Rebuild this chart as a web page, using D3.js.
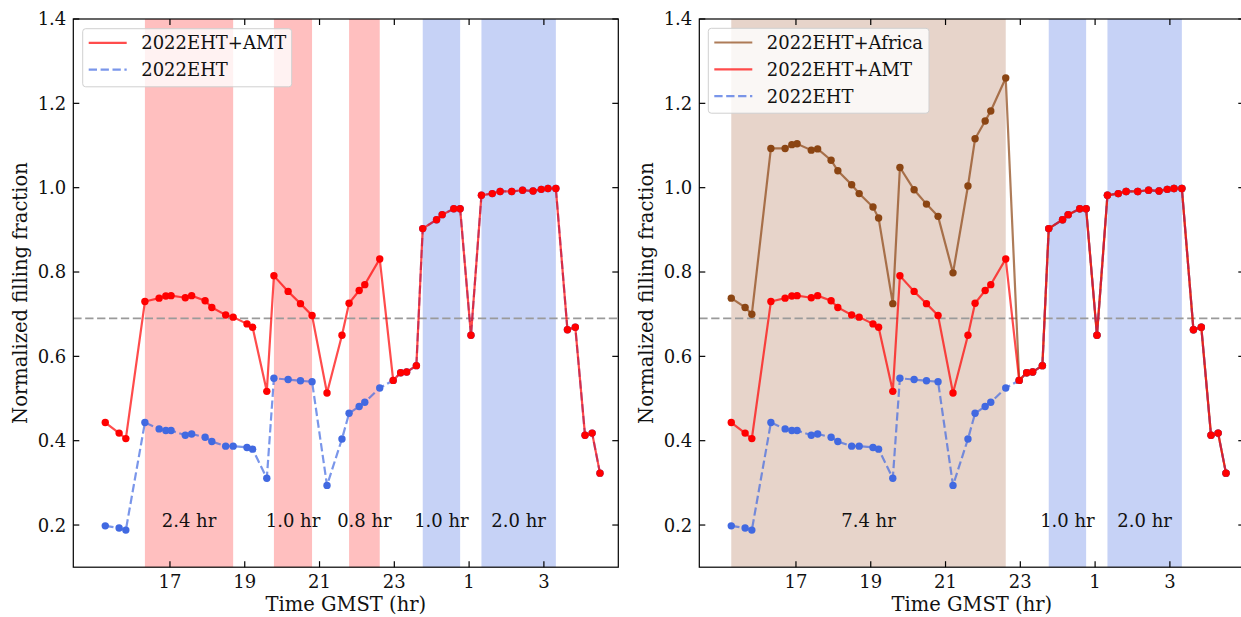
<!DOCTYPE html>
<html>
<head>
<meta charset="utf-8">
<script src="https://cdn.jsdelivr.net/npm/d3@7"></script>
<style>
  html, body { margin: 0; padding: 0; background: #fff; }
  svg { display: block; font-family: "DejaVu Serif", serif; }
</style>
</head>
<body>
<svg id="chart" width="1241" height="617"></svg>
<script>
// Observation times (GMST hours, continued past 24 so the track stays monotonic)
const gmst = [15.27, 15.64, 15.82, 16.33, 16.71, 16.89, 17.03, 17.41, 17.58, 17.94,
              18.12, 18.49, 18.69, 19.06, 19.21, 19.59, 19.78, 20.16, 20.49, 20.80,
              21.20, 21.60, 21.79, 22.06, 22.21, 22.61, 22.97, 23.17, 23.33, 23.59,
              23.76, 24.13, 24.28, 24.59, 24.76, 25.05, 25.33, 25.62, 25.83, 26.14,
              26.43, 26.71, 26.93, 27.11, 27.32, 27.63, 27.84, 28.10, 28.29, 28.50];

// Normalized filling fraction per array
const fillEHT = [0.198, 0.193, 0.188, 0.443, 0.428, 0.424, 0.424, 0.413, 0.416, 0.408,
                 0.398, 0.387, 0.387, 0.384, 0.380, 0.311, 0.548, 0.545, 0.542, 0.540,
                 0.294, 0.404, 0.465, 0.481, 0.491, 0.525, 0.543, 0.561, 0.563, 0.578,
                 0.903, 0.924, 0.936, 0.950, 0.950, 0.650, 0.982, 0.986, 0.991, 0.991,
                 0.994, 0.992, 0.996, 0.998, 0.998, 0.663, 0.669, 0.413, 0.418, 0.323];

const fillAMT = [0.443, 0.418, 0.405, 0.730, 0.738, 0.743, 0.744, 0.739, 0.744, 0.732,
                 0.716, 0.698, 0.693, 0.677, 0.669, 0.517, 0.791, 0.754, 0.725, 0.697,
                 0.513, 0.650, 0.726, 0.756, 0.770, 0.831, 0.543, 0.561, 0.563, 0.578,
                 0.903, 0.924, 0.936, 0.950, 0.950, 0.650, 0.982, 0.986, 0.991, 0.991,
                 0.994, 0.992, 0.996, 0.998, 0.998, 0.663, 0.669, 0.413, 0.418, 0.323];

const fillAfrica = [0.738, 0.716, 0.700, 1.093, 1.093, 1.102, 1.104, 1.089, 1.092, 1.065,
                    1.040, 1.007, 0.986, 0.954, 0.928, 0.725, 1.048, 0.995, 0.961, 0.932,
                    0.798, 1.004, 1.116, 1.158, 1.182, 1.260, 0.543, 0.561, 0.563, 0.578,
                    0.903, 0.924, 0.936, 0.950, 0.950, 0.650, 0.982, 0.986, 0.991, 0.991,
                    0.994, 0.992, 0.996, 0.998, 0.998, 0.663, 0.669, 0.413, 0.418, 0.323];

// Threshold level
const threshold = [0.69];

// Highlighted windows [start, end] and their labels
const amtWindows = [[16.33, 18.69], [19.78, 20.80], [21.79, 22.61]];
const amtWindowLabels = ["2.4 hr", "1.0 hr", "0.8 hr"];
const africaWindows = [[15.27, 22.61]];
const africaWindowLabels = ["7.4 hr"];
const commonWindows = [[23.76, 24.76], [25.33, 27.32]];
const commonWindowLabels = ["1.0 hr", "2.0 hr"];

// Axis ticks
const xTickValues = [17, 19, 21, 23, 25, 27];
const xTickLabels = ["17", "19", "21", "23", "1", "3"];
const yTickValues = [0.2, 0.4, 0.6, 0.8, 1.0, 1.2, 1.4];
const yTickLabels = ["0.2", "0.4", "0.6", "0.8", "1.0", "1.2", "1.4"];

const svg = d3.select("#chart");
const panelW = 545, panelH = 548.2, plotTop = 19;
const FONT = 18, TITLE_FONT = 19.5;

const styles = {
  eht:    { line: "#4169e1", dot: "#4169e1", dash: "8.3,3.6", name: "2022EHT" },
  amt:    { line: "#ff0000", dot: "#ff0000", dash: null,      name: "2022EHT+AMT" },
  africa: { line: "#8b4513", dot: "#8b4513", dash: null,      name: "2022EHT+Africa" }
};

function drawPanel(left, cfg) {
  const x = d3.scaleLinear().domain([14.415, 28.99]).range([0, panelW]);
  const y = d3.scaleLinear().domain([0.1, 1.4]).range([panelH, 0]);
  const g = svg.append("g").attr("transform", `translate(${left},${plotTop})`);

  // shaded windows
  cfg.bands.forEach(b => {
    g.selectAll(null).data(b.windows).enter().append("rect")
      .attr("x", d => x(d[0])).attr("y", 0)
      .attr("width", d => x(d[1]) - x(d[0])).attr("height", panelH)
      .attr("fill", b.color).attr("fill-opacity", b.opacity);
  });

  // threshold line
  g.selectAll(null).data(threshold).enter().append("line")
    .attr("x1", 0).attr("x2", panelW)
    .attr("y1", d => y(d)).attr("y2", d => y(d))
    .attr("stroke", "#9a9a9a").attr("stroke-width", 1.9)
    .attr("stroke-dasharray", "8.3,3.6");

  // series
  const line = d3.line().x(d => x(d[0])).y(d => y(d[1]));
  cfg.series.forEach(s => {
    const st = styles[s.key];
    const pts = gmst.map((t, i) => [t, s.values[i]]);
    g.append("path").datum(pts).attr("d", line)
      .attr("fill", "none").attr("stroke", st.line)
      .attr("stroke-opacity", 0.7).attr("stroke-width", 2.2)
      .attr("stroke-dasharray", st.dash);
    g.selectAll(null).data(pts).enter().append("circle")
      .attr("cx", d => x(d[0])).attr("cy", d => y(d[1])).attr("r", 3.7)
      .attr("fill", st.dot);
  });

  // window labels
  cfg.bands.forEach(b => {
    g.selectAll(null).data(b.windows).enter().append("text")
      .attr("x", d => (x(d[0]) + x(d[1])) / 2)
      .attr("y", y(0.2) + 2)
      .attr("text-anchor", "middle").attr("font-size", FONT).attr("fill", "#111")
      .text((d, i) => b.labels[i]);
  });

  // frame
  g.append("rect").attr("x", 0).attr("y", 0).attr("width", panelW).attr("height", panelH)
    .attr("fill", "none").attr("stroke", "#000").attr("stroke-width", 1.2);

  // inward ticks on all sides
  const tl = 6;
  xTickValues.forEach((v, i) => {
    g.append("line").attr("x1", x(v)).attr("x2", x(v)).attr("y1", panelH).attr("y2", panelH - tl)
      .attr("stroke", "#000").attr("stroke-width", 1.2);
    g.append("line").attr("x1", x(v)).attr("x2", x(v)).attr("y1", 0).attr("y2", tl)
      .attr("stroke", "#000").attr("stroke-width", 1.2);
    g.append("text").attr("x", x(v)).attr("y", panelH + 21)
      .attr("text-anchor", "middle").attr("font-size", FONT).attr("fill", "#111")
      .text(xTickLabels[i]);
  });
  yTickValues.forEach((v, i) => {
    g.append("line").attr("x1", 0).attr("x2", tl).attr("y1", y(v)).attr("y2", y(v))
      .attr("stroke", "#000").attr("stroke-width", 1.2);
    g.append("line").attr("x1", panelW).attr("x2", panelW - tl).attr("y1", y(v)).attr("y2", y(v))
      .attr("stroke", "#000").attr("stroke-width", 1.2);
    g.append("text").attr("x", -7).attr("y", y(v)).attr("dy", "0.36em")
      .attr("text-anchor", "end").attr("font-size", FONT).attr("fill", "#111")
      .text(yTickLabels[i]);
  });

  // axis titles
  g.append("text").attr("x", panelW / 2).attr("y", panelH + 44)
    .attr("text-anchor", "middle").attr("font-size", TITLE_FONT).attr("fill", "#111")
    .text("Time GMST (hr)");
  g.append("text")
    .attr("transform", `translate(-53,${panelH / 2}) rotate(-90)`)
    .attr("text-anchor", "middle").attr("dominant-baseline", "central")
    .attr("font-size", TITLE_FONT).attr("fill", "#111")
    .text("Normalized filling fraction");

  // legend
  const lg = g.append("g").attr("transform", `translate(${cfg.legend.x},${cfg.legend.y})`);
  const rowH = 26.8;
  lg.append("rect").attr("x", 0).attr("y", 0)
    .attr("width", cfg.legend.w).attr("height", cfg.legend.order.length * rowH + 4.5)
    .attr("rx", 3).attr("fill", "#fff").attr("fill-opacity", 0.8)
    .attr("stroke", "#d0d0d0").attr("stroke-width", 1);
  cfg.legend.order.forEach((k, i) => {
    const st = styles[k];
    const cy = 14.2 + i * rowH;
    lg.append("line").attr("x1", 6).attr("x2", 44).attr("y1", cy).attr("y2", cy)
      .attr("stroke", st.line).attr("stroke-opacity", 0.7).attr("stroke-width", 2.2)
      .attr("stroke-dasharray", st.dash);
    lg.append("text").attr("x", 58.5).attr("y", cy).attr("dy", "0.36em")
      .attr("font-size", FONT).attr("fill", "#111").text(st.name);
  });
}

drawPanel(73.3, {
  bands: [
    { windows: amtWindows, labels: amtWindowLabels, color: "#ff0000", opacity: 0.25 },
    { windows: commonWindows, labels: commonWindowLabels, color: "#4169e1", opacity: 0.3 }
  ],
  series: [
    { key: "eht", values: fillEHT },
    { key: "amt", values: fillAMT }
  ],
  legend: { x: 9.4, y: 9.7, w: 209, order: ["amt", "eht"] }
});

drawPanel(699.3, {
  bands: [
    { windows: africaWindows, labels: africaWindowLabels, color: "#a0522d", opacity: 0.25 },
    { windows: commonWindows, labels: commonWindowLabels, color: "#4169e1", opacity: 0.3 }
  ],
  series: [
    { key: "africa", values: fillAfrica },
    { key: "eht", values: fillEHT },
    { key: "amt", values: fillAMT }
  ],
  legend: { x: 9, y: 9.3, w: 220.7, order: ["africa", "amt", "eht"] }
});
</script>
</body>
</html>
